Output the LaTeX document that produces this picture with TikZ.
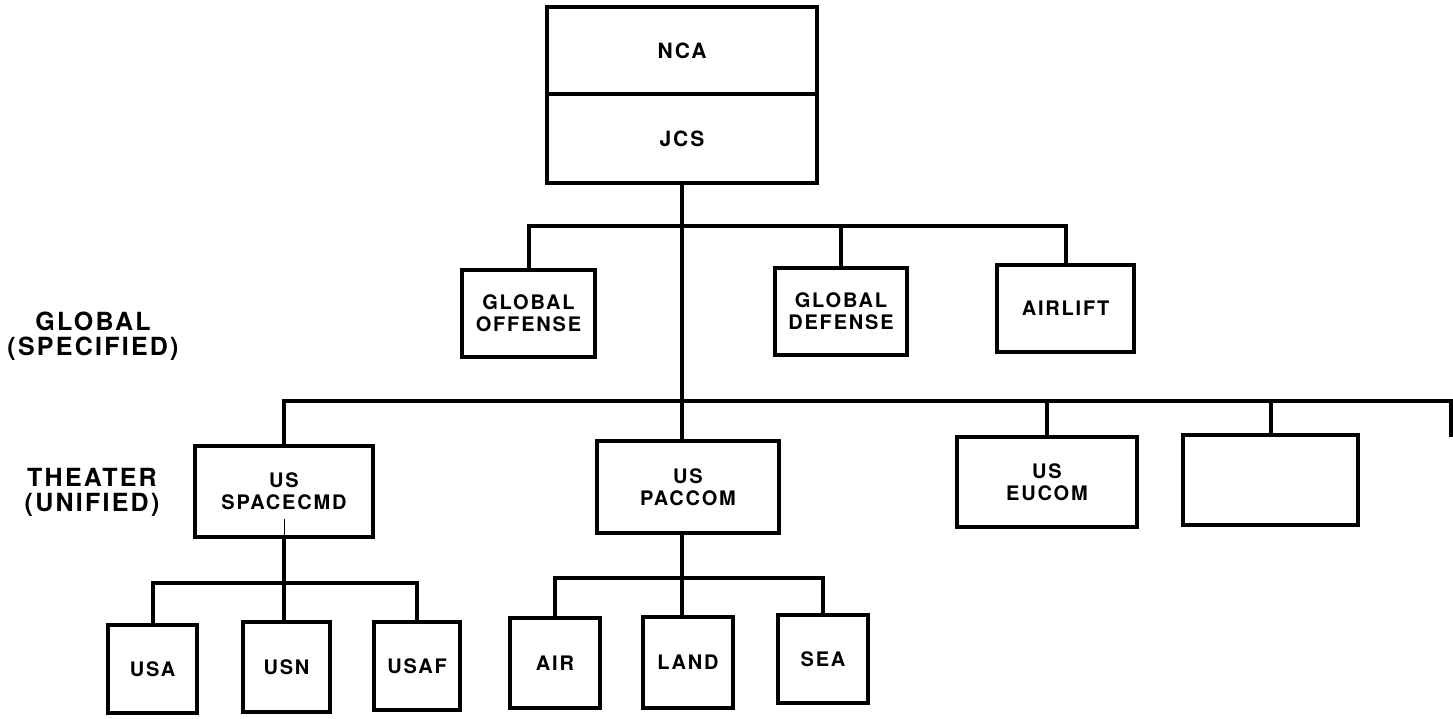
\documentclass[tikz,border=0pt]{standalone}
\usepackage{fontspec}
\setmainfont{TeX Gyre Heros}[LetterSpace=9]
\newcommand\myboxfont{\fontsize{20pt}{22pt}\selectfont\bfseries}
\newcommand\mytopfont{\fontsize{21pt}{23pt}\selectfont\bfseries}
\newcommand\mylblfont{\fontsize{25pt}{25pt}\selectfont\bfseries}
\begin{document}
\begin{tikzpicture}[x=1pt,y=-1pt,
  box/.style={draw, line width=4pt, inner sep=0pt, align=center, font=\myboxfont},
  topbox/.style={box, font=\mytopfont},
  conn/.style={line width=4pt},
  lbl/.style={align=center, font=\mylblfont, inner sep=0pt}]
\path[use as bounding box, fill=white] (0,0) rectangle (1453,718);

% top
\node[topbox, minimum width=270pt, minimum height=87pt] (nca) at (682,50.5) {NCA};
\node[topbox, minimum width=270pt, minimum height=89pt] (jcs) at (682,138.5) {JCS};

% global
\node[box, minimum width=133pt, minimum height=87pt] (off) at (528.5,313.5) {GLOBAL\\OFFENSE};
\node[box, minimum width=132pt, minimum height=87pt] (def) at (841,311.5) {GLOBAL\\DEFENSE};
\node[box, minimum width=137pt, minimum height=87pt] (air) at (1065.5,308.5) {AIRLIFT};

% theater
\node[box, minimum width=178pt, minimum height=91pt] (sc) at (284,491.5) {US\\SPACECMD};
\node[box, minimum width=182pt, minimum height=92pt] (pac) at (688,487) {US\\PACCOM};
\node[box, minimum width=180pt, minimum height=90pt] (eu) at (1047,482) {US\\EUCOM};
\node[box, minimum width=175pt, minimum height=90pt] (emp) at (1270.5,480) {};

% components
\node[box, minimum width=89pt, minimum height=88pt] (usa) at (152.5,669) {USA};
\node[box, minimum width=87pt, minimum height=90pt] (usn) at (286.5,667) {USN};
\node[box, minimum width=86pt, minimum height=88pt] (usaf) at (417,666) {USAF};
\node[box, minimum width=90pt, minimum height=90pt] (airn) at (555,663) {AIR};
\node[box, minimum width=90pt, minimum height=91pt] (land) at (688,662.5) {LAND};
\node[box, minimum width=90pt, minimum height=88pt] (sea) at (823,659) {SEA};

% side labels
\node[lbl] (glbl) at (93,336) {GLOBAL\\(SPECIFIED)};
\node[lbl] (tlbl) at (92,492) {THEATER\\(UNIFIED)};

% bar coordinates
\coordinate (g) at (682,226);
\coordinate (t) at (682,401);
\coordinate (send) at (1451,437);
\coordinate (sb) at (285,583);
\coordinate (pb) at (682,578);

% connectors
\draw[conn] (jcs.south) -- (t);
\draw[conn] (off.north) -- (off.north |- g) -- (air.north |- g) -- (air.north);
\draw[conn] (def.north) -- (def.north |- g);
\draw[conn] (sc.north) -- (sc.north |- t) -- (send |- t) -- (send);
\draw[conn] (t) -- (pac.north -| t);
\draw[conn] (eu.north) -- (eu.north |- t);
\draw[conn] (emp.north) -- (emp.north |- t);

\draw[conn] (sc.south) -- (sc.south |- usn.north);
\draw[conn] (usa.north) -- (usa.north |- sb) -- (usaf.north |- sb) -- (usaf.north);
\draw[line width=0.8pt] (sc.south) -- ++(0,-20);

\draw[conn] (pac.south -| pb) -- (land.north -| pb);
\draw[conn] (airn.north) -- (airn.north |- pb) -- (sea.north |- pb) -- (sea.north);
\end{tikzpicture}
\end{document}
